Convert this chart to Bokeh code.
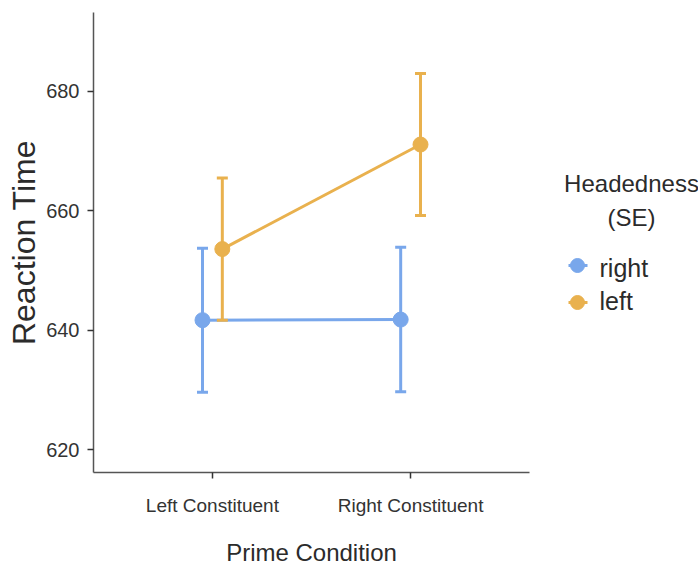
from bokeh.plotting import figure
from bokeh.models import ColumnDataSource, FactorRange, Range1d, FixedTicker
from bokeh.transform import dodge
from bokeh.layouts import row
from bokeh.embed import file_html
from bokeh.resources import INLINE

# ---- data ----
conditions = ["Left Constituent", "Right Constituent"]
right_mean = [641.7, 641.8]
right_se = [12.05, 12.1]
left_mean = [653.6, 671.1]
left_se = [11.9, 11.9]
y_ticks = [620, 640, 660, 680]
series_names = ["right", "left"]
series_colors = ["#79A7EB", "#E9B14E"]
series_offsets = [-0.05, 0.05]

FONT = "'Liberation Sans', Arial, sans-serif"
TXT = "#2b2b2b"

p = figure(width=533, height=568, output_backend="svg", toolbar_location=None,
           x_range=FactorRange(factors=conditions, range_padding=0.1, range_padding_units="percent"),
           y_range=Range1d(616.2, 693.2),
           min_border_left=93, min_border_right=4, min_border_top=12, min_border_bottom=96)
p.outline_line_color = None
p.xgrid.visible = False
p.ygrid.visible = False

def make_source(means, ses):
    return ColumnDataSource(dict(
        x=conditions, mean=means,
        lo=[m - s for m, s in zip(means, ses)],
        hi=[m + s for m, s in zip(means, ses)]))

sources = [make_source(right_mean, right_se), make_source(left_mean, left_se)]

for src, col, off in zip(sources, series_colors, series_offsets):
    xd = dodge("x", off, range=p.x_range)
    p.line(x=xd, y="mean", source=src, line_color=col, line_width=3)
    p.segment(x0=xd, y0="lo", x1=xd, y1="hi", source=src, line_color=col, line_width=3)
    p.scatter(x=xd, y="lo", source=src, marker="dash", size=11, line_color=col, line_width=3)
    p.scatter(x=xd, y="hi", source=src, marker="dash", size=11, line_color=col, line_width=3)
    p.scatter(x=xd, y="mean", source=src, marker="circle", size=15, fill_color=col, line_color=col)

# axes
for ax in (p.xaxis[0], p.yaxis[0]):
    ax.axis_line_color = "#555555"
    ax.axis_line_width = 1.5
    ax.major_tick_line_color = "#333333"
    ax.major_tick_line_width = 1.5
    ax.major_tick_out = 6
    ax.major_tick_in = 0
    ax.minor_tick_line_color = None
    ax.major_label_text_font = FONT
    ax.major_label_text_color = "#333333"
    ax.axis_label_text_font = FONT
    ax.axis_label_text_color = TXT
    ax.axis_label_text_font_style = "normal"

p.yaxis.ticker = FixedTicker(ticks=y_ticks)
p.yaxis.major_label_text_font_size = "20px"
p.yaxis.major_label_standoff = 8
p.yaxis.axis_label = "Reaction Time"
p.yaxis.axis_label_text_font_size = "32px"
p.yaxis.axis_label_standoff = 1

p.xaxis.major_label_text_font_size = "19px"
p.xaxis.major_label_standoff = 16
p.xaxis.axis_label = "Prime Condition"
p.xaxis.axis_label_text_font_size = "24px"
p.xaxis.axis_label_standoff = 20

# ---- legend panel (data coordinates equal page pixels inside its frame) ----
lg = figure(width=165, height=568, output_backend="svg", toolbar_location=None,
            x_range=Range1d(533, 698), y_range=Range1d(472, 12),
            x_axis_type=None, y_axis_type=None,
            min_border_left=0, min_border_right=0,
            min_border_top=12, min_border_bottom=96)
lg.outline_line_color = None

lg.text(x=[631, 631], y=[183, 217], text=["Headedness", "(SE)"],
        text_align="center", text_baseline="alphabetic",
        text_font={"value": FONT}, text_font_size="24px", text_color=TXT)

key_y = [265, 302]
lg.segment(x0=[568] * 2, y0=key_y, x1=[587] * 2, y1=key_y,
           line_color=series_colors, line_width=3)
lg.scatter(x=[577] * 2, y=key_y, marker="circle", size=14,
           fill_color=series_colors, line_color=series_colors)
lg.text(x=[599] * 2, y=[267, 300], text=series_names, text_align="left",
        text_baseline="alphabetic", text_font={"value": FONT},
        text_font_size="25px", text_color=TXT)

layout = row(p, lg, spacing=0)
open("out.html", "w").write(file_html(layout, INLINE))
